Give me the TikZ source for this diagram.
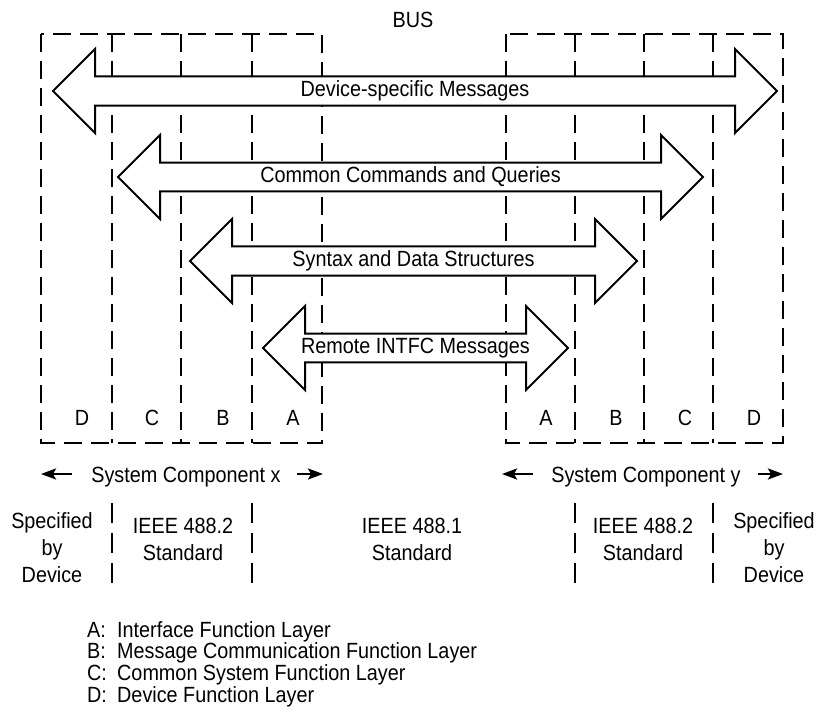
\documentclass[tikz,border=0pt]{standalone}
\usepackage{fontspec}
\setmainfont{Liberation Sans}[FakeStretch=0.9]
\usetikzlibrary{shapes.arrows,arrows.meta}

\begin{document}
\begin{tikzpicture}[x=1pt,y=-1pt,
    every node/.style={font=\fontsize{22}{27}\selectfont,inner sep=0pt},
    lay/.style={line width=2.2pt,dash pattern=on 18pt off 9pt},
    sep/.style={line width=2.2pt,dash pattern=on 20pt off 10pt},
    msg/.style={double arrow,draw,fill=white,line width=2pt,minimum width=84pt,
      double arrow head extend=21pt,double arrow tip angle=90},
    tip/.style={line width=2.5pt,-{Stealth[length=15pt,width=11pt,inset=3pt]}}]
          \useasboundingbox (0,0) rectangle (825,723);
          \node[anchor=base] (bus) at (413,27) {BUS};
          \draw[lay] (41,34) rectangle (322,443);
          \draw[lay] (112,34) -- (112,443);
          \draw[lay] (181,34) -- (181,443);
          \draw[lay] (252,34) -- (252,443);
          \draw[lay] (506,34) rectangle (783,443);
          \draw[lay] (575,34) -- (575,443);
          \draw[lay] (644,34) -- (644,443);
          \draw[lay] (713,34) -- (713,443);
          \node[msg,minimum height=724pt] (dev) at (415,91) {Device-specific Messages};
          \node[msg,minimum height=585pt] (ccq) at (410.5,177) {Common Commands and Queries};
          \node[msg,minimum height=447pt] (sds) at (413.5,261) {Syntax and Data Structures};
          \node[msg,minimum height=305pt] (rim) at (415.5,348) {Remote INTFC Messages};
          \node[anchor=base] (xd) at (82,425) {D};
          \node[anchor=base] (xc) at (152,425) {C};
          \node[anchor=base] (xb) at (223,425) {B};
          \node[anchor=base] (xa) at (293,425) {A};
          \node[anchor=base] (ya) at (546,425) {A};
          \node[anchor=base] (yb) at (616,425) {B};
          \node[anchor=base] (yc) at (685,425) {C};
          \node[anchor=base] (yd) at (754,425) {D};
          \node[anchor=base] (sysx) at (186,482) {System Component x};
          \node[anchor=base] (sysy) at (646,482) {System Component y};
          \coordinate (xl) at (41,474);
          \coordinate (xlt) at (72,474);
          \coordinate (xr) at (323,474);
          \coordinate (xrt) at (297,474);
          \coordinate (yl) at (502,474);
          \coordinate (ylt) at (533,474);
          \coordinate (yr) at (783,474);
          \coordinate (yrt) at (758,474);
          \draw[tip] (xlt) -- (xl);
          \draw[tip] (xrt) -- (xr);
          \draw[tip] (ylt) -- (yl);
          \draw[tip] (yrt) -- (yr);
          \draw[sep] (112,503) -- (112,583);
          \draw[sep] (252,503) -- (252,583);
          \draw[sep] (575,503) -- (575,583);
          \draw[sep] (713,503) -- (713,583);
          \node[anchor=base,align=center] (devx) at (52,582) {Specified\\by\\Device};
          \node[anchor=base,align=center] (stdx) at (183,560) {IEEE 488.2\\Standard};
          \node[anchor=base,align=center] (std1) at (412,560) {IEEE 488.1\\Standard};
          \node[anchor=base,align=center] (stdy) at (643,560) {IEEE 488.2\\Standard};
          \node[anchor=base,align=center] (devy) at (774,582) {Specified\\by\\Device};
          \node[anchor=base west] (ka) at (87,637) {A:};
          \node[anchor=base west] (kb) at (87,658) {B:};
          \node[anchor=base west] (kc) at (87,680) {C:};
          \node[anchor=base west] (kd) at (87,702) {D:};
          \node[anchor=base west] (ta) at (117,637) {Interface Function Layer};
          \node[anchor=base west] (tb) at (117,658) {Message Communication Function Layer};
          \node[anchor=base west] (tc) at (117,680) {Common System Function Layer};
          \node[anchor=base west] (td) at (117,702) {Device Function Layer};
        \end{tikzpicture}
\end{document}
